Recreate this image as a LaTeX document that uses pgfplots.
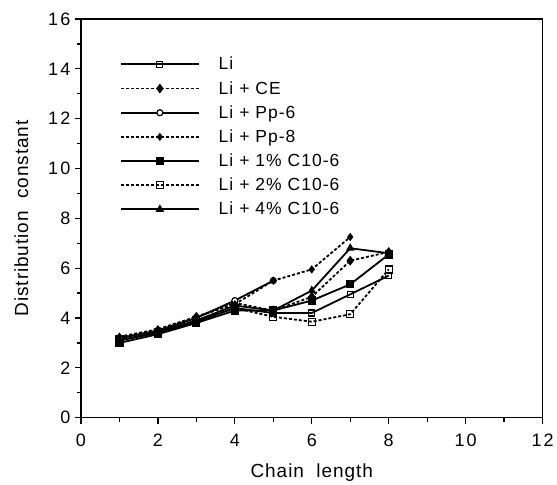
\documentclass[border=0pt]{standalone}
\usepackage{pgfplots}
\pgfplotsset{compat=1.18}
\usepackage{fontspec}
\setmainfont{Liberation Sans}
\newcommand{\bigf}{\fontsize{17.5}{21}\selectfont\addfontfeatures{LetterSpace=6}}
\newcommand{\tickf}{\fontsize{18}{21}\selectfont\addfontfeatures{LetterSpace=12}}
\newcommand{\labf}{\fontsize{19}{22}\selectfont\addfontfeatures{LetterSpace=5}}
\begin{document}
\begin{tikzpicture}[font=\bigf]
\begin{axis}[
  at={(0,0)}, anchor=south west,
  scale only axis,
  width=462pt, height=399pt,
  xmin=0, xmax=12, ymin=0, ymax=16,
  xtick={0,2,...,12}, ytick={0,2,...,16},
  minor xtick={1,3,...,11}, minor ytick={1,3,...,15},
  tick align=outside,
  xtick pos=left, ytick pos=left,
  major tick length=6pt, minor tick length=4pt,
  tick style={line width=1.3pt, black},
  axis line style={line width=1.3pt},
  /pgf/number format/assume math mode=true,
  tick label style={font=\tickf},
  label style={font=\labf},
  xticklabel style={yshift=-7pt},
  yticklabel style={xshift=-1pt},
  xlabel={Chain\ \ length},
  ylabel={Distribution\ \ constant},
  xlabel style={yshift=-10pt},
  ylabel style={yshift=13pt},
  myline/.style={line width=1.8pt, black, mark options={solid, line width=1.2pt}},
  legend cell align=left,
  legend style={draw=none, fill=none, inner sep=0pt, at={(axis cs:1.01,14.55)}, anchor=north west,
    row sep=6pt, font=\bigf, /tikz/every odd column/.append style={column sep=17pt}},
  legend image code/.code={%
    \draw[mark repeat=2,mark phase=2,#1] plot coordinates {(0pt,0pt) (39pt,0pt) (78pt,0pt)};},
]
% Li
\addplot[myline, solid, mark=square, mark size=3pt, mark options={solid, fill=white, line width=1.2pt}] coordinates {
(1,3.1) (2,3.4) (3,3.85) (4,4.4) (5,4.2) (6,4.2) (7,4.95) (8,5.7)};
\addlegendentry{Li}
% Li + CE
\addplot[myline, densely dashed, mark=diamond*, mark size=4pt] coordinates {
(1,3.2) (2,3.5) (3,4.05) (4,4.6) (5,4.3) (6,4.85) (7,6.3) (8,6.65)};
\addlegendentry{Li + CE}
% Li + Pp-6
\addplot[myline, solid, mark=*, mark size=3pt, mark options={solid, fill=white, line width=1.2pt}] coordinates {
(1,3.2) (2,3.5) (3,4.0) (4,4.7) (5,5.5)};
\addlegendentry{Li + Pp-6}
% Li + Pp-8
\addplot[myline, densely dashed, mark=diamond*, mark size=3.2pt] coordinates {
(1,3.25) (2,3.55) (3,4.05) (4,4.55) (5,5.5) (6,5.95) (7,7.25)};
\addlegendentry{Li + Pp-8}
% Li + 1% C10-6
\addplot[myline, solid, mark=square*, mark size=3.5pt] coordinates {
(1,3.0) (2,3.35) (3,3.8) (4,4.3) (5,4.3) (6,4.7) (7,5.35) (8,6.55)};
\addlegendentry{Li + 1\% C10-6}
% Li + 2% C10-6
\addplot[myline, densely dashed, mark=square, mark size=3.5pt, mark options={solid, fill=white, line width=1.2pt}] coordinates {
(1,3.15) (2,3.45) (3,3.9) (4,4.4) (5,4.05) (6,3.85) (7,4.15) (8,5.95)};
\addlegendentry{Li + 2\% C10-6}
% Li + 4% C10-6
\addplot[myline, solid, mark=triangle*, mark size=3.8pt] coordinates {
(1,3.1) (2,3.45) (3,3.9) (4,4.5) (5,4.3) (6,5.1) (7,6.8) (8,6.6)};
\addlegendentry{Li + 4\% C10-6}
\end{axis}
\path (-81pt,-65pt) (476pt,418pt);
\end{tikzpicture}
\end{document}
